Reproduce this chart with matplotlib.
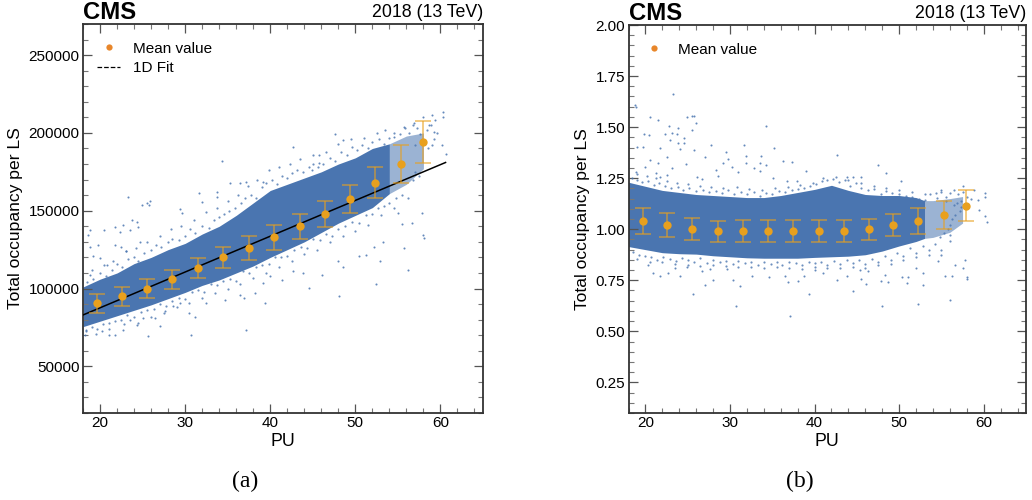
import matplotlib
matplotlib.use('Agg')
import matplotlib.pyplot as plt
from matplotlib.lines import Line2D
from matplotlib.ticker import MultipleLocator

plt.rcParams['font.family'] = ['Liberation Sans', 'DejaVu Sans']

# mean values with spread
pu_a = [19.7, 22.6, 25.5, 28.5, 31.5, 34.5, 37.5, 40.5, 43.5, 46.4, 49.4, 52.3, 55.4, 58.0]
mean_a = [90500, 95000, 100000, 106000, 113000, 120000, 126000, 133000, 140000, 148000, 157500, 168000, 180000, 194000]
err_a = [6000, 6000, 6000, 6000, 6500, 7000, 7500, 8000, 8000, 8500, 9000, 10000, 12000, 13500]

pu_b = [19.7, 22.6, 25.5, 28.6, 31.5, 34.5, 37.5, 40.5, 43.5, 46.4, 49.3, 52.2, 55.3, 57.9]
mean_b = [1.04, 1.02, 1.00, 0.99, 0.99, 0.99, 0.99, 0.99, 0.99, 1.00, 1.02, 1.04, 1.07, 1.115]
err_b = [0.062, 0.058, 0.055, 0.052, 0.055, 0.053, 0.055, 0.055, 0.055, 0.052, 0.055, 0.062, 0.07, 0.075]

fit_pu = [18, 60.6]
fit_occ = [83000, 181000]

# outline of the dense part of the scatter
band_pu_a = [18, 20, 22, 24, 26, 28, 30, 32, 34, 36, 38, 40, 42, 44, 46, 48, 50, 52, 54]
edge_hi_a = [101000, 106000, 110000, 116000, 120000, 125000, 129000, 135000, 140000, 147000, 155000, 163000, 167000, 171000, 175000, 180000, 184000, 190000, 193000]
edge_lo_a = [75500, 79000, 82500, 86000, 89500, 93500, 97500, 102000, 105500, 110000, 114500, 120000, 125000, 130000, 136000, 142000, 147000, 152000, 161000]
tail_pu_a = [54, 56, 58]
tail_hi_a = [193000, 198000, 200000]
tail_lo_a = [161000, 167000, 177000]

band_pu_b = [18, 20, 22, 24, 26, 28, 30, 32, 34, 36, 38, 40, 42, 44, 46, 48, 50, 52, 53]
edge_hi_b = [1.23, 1.21, 1.19, 1.18, 1.17, 1.165, 1.16, 1.155, 1.155, 1.165, 1.18, 1.195, 1.215, 1.19, 1.17, 1.165, 1.165, 1.155, 1.14]
edge_lo_b = [0.915, 0.90, 0.885, 0.88, 0.878, 0.87, 0.865, 0.86, 0.858, 0.858, 0.858, 0.862, 0.865, 0.868, 0.875, 0.893, 0.918, 0.94, 0.955]
tail_pu_b = [53, 54, 56, 57.5]
tail_hi_b = [1.14, 1.14, 1.15, 1.16]
tail_lo_b = [0.955, 0.96, 0.985, 1.03]

# speckle just outside the dense part
speck_pu_a = [18.5, 19.2, 20, 20.7, 21.4, 22, 22.6, 23.3, 24, 24.5, 25.2, 26, 26.6, 27.2, 28, 28.5, 29.3, 30, 30.6, 31.2,
              32, 32.8, 33.4, 34, 34.6, 35.2, 35.9, 36.6, 37, 37.7, 38.3, 39, 39.5, 40.2, 40.8, 41.4, 42, 42.6, 43.2, 43.8,
              44.5, 45, 45.6, 46.2, 47, 47.6, 48.3, 49, 49.6, 50.2, 50.8, 51.5, 52, 52.8, 53.4, 54, 54.6, 55.2, 55.8, 56.3,
              56.8, 57.3, 57.6, 58.4, 58.9, 59.2, 59.6, 59, 58.5, 57,
              18.3, 19, 19.7, 20.4, 21.1, 21.8, 22.5, 23.2, 24, 24.8, 25.5, 26.3, 27, 27.8, 28.5, 29.3, 30, 30.8, 31.5, 32.2,
              33, 33.8, 34.5, 35.3, 36, 36.8, 37.5, 38.3, 39, 39.8, 40.6, 41.3, 42, 42.8, 43.6, 44.3, 45, 45.8, 46.5, 47.3,
              48, 48.8, 49.6, 50.4, 51.2, 52, 52.7, 53.4, 54, 54.8, 55.5, 56.2, 56.8, 57, 57.5,
              19, 20.5, 21.5, 23, 24.2, 25.5, 27, 28.3, 29.5, 31, 32.4, 33.7, 35, 36.2, 37.4, 38.5, 39.8, 41, 42.3, 43.5,
              45, 46.5, 48, 49.5, 51, 52.5, 53.5,
              19.5, 21, 22.8, 24.5, 26, 27.5, 29, 30.5, 32, 33.5, 35, 36.5, 38, 39.5, 41, 42.5, 44, 45.5, 47, 48.5,
              50, 51.5, 53, 54.5]
speck_occ_a = [104000, 106000, 110000, 108000, 112000, 116000, 114000, 119000, 120000, 118000, 123000, 125000, 128000, 127000, 130000, 132000, 131000, 134000, 138000, 136000,
               140000, 139000, 144000, 146000, 148000, 150000, 152000, 155000, 158000, 160000, 158000, 165000, 168000, 170000, 167000, 172000, 171000, 174000, 176000, 175000,
               178000, 180000, 178000, 180000, 184000, 182000, 188000, 186000, 191000, 189000, 192000, 190000, 194000, 196000, 193000, 197000, 200000, 199000, 203000, 200000,
               205000, 203000, 199000, 202000, 205000, 196000, 200000, 192000, 190000, 192000,
               72500, 75000, 74000, 77000, 78000, 79000, 80000, 83000, 82000, 85000, 86000, 87000, 90000, 89000, 92000, 94000, 93000, 98000, 99000, 98000,
               103000, 102000, 105000, 106000, 105000, 111000, 110000, 114000, 115000, 116000, 120000, 120000, 121000, 125000, 127000, 126000, 132000, 131000, 135000, 134000,
               138000, 140000, 143000, 142000, 147000, 148000, 152000, 153000, 155000, 158000, 160000, 158000, 170000, 175000, 172000,
               112000, 115000, 118000, 124000, 126000, 130000, 134000, 138000, 140000, 144000, 149000, 152000, 156000, 160000, 166000, 170000, 176000, 178000, 180000, 183000,
               186000, 188000, 193000, 196000, 197000, 200000, 202000,
               71000, 74000, 77000, 78000, 82000, 84000, 88000, 91000, 94000, 97000, 100000, 103000, 107000, 110000, 114000, 118000, 122000, 125000, 130000, 134000,
               137000, 141000, 147000, 152000]

speck_pu_b = [18.4, 19, 19.6, 20.3, 21, 21.6, 22.3, 23, 23.8, 24.5, 25.2, 26, 26.8, 27.5, 28.3, 29, 29.8, 30.5, 31.3, 32,
              32.8, 33.5, 34.3, 35, 35.8, 36.5, 37.3, 38, 38.8, 39.5, 40.2, 40.9, 41.5, 42.2, 42.9, 43.6, 44.2, 44.9, 45.5, 46.3,
              47, 47.8, 48.5, 49.2, 50, 50.8, 51.5, 52.3, 53, 53.7, 54.4, 55, 55.5, 56, 56.5, 57, 57.5, 58, 58.5, 56.8,
              57.3, 57.2, 56.6, 56.3, 56, 55.8, 56, 55.3, 54.8,
              18.5, 19.2, 20, 20.7, 21.4, 22.1, 22.9, 23.6, 24.3, 25, 25.8, 26.5, 27.3, 28, 28.8, 29.5, 30.3, 31, 31.8, 32.5,
              33.3, 34, 34.8, 35.5, 36.2, 37, 37.8, 38.5, 39.3, 40, 40.8, 41.5, 42.3, 43, 43.8, 44.5, 45.3, 46, 46.8, 47.5,
              48.3, 49, 49.8, 50.5, 51.3, 52, 52.8, 53.5, 54.2, 55,
              19, 20.2, 21.3, 22.5, 23.7, 25, 26.4, 27.8, 29.2, 30.8, 32.2, 33.8, 35.3, 36.8, 38.3, 39.8, 41, 42.5, 44, 45.5,
              47, 48.5, 50, 51.5, 53, 54.5, 55.5, 56.5, 57.3,
              19, 20.5, 22, 23.5, 25, 26.5, 28, 29.5, 31, 32.5, 34, 35.5, 37, 38.5, 40, 41.5, 43, 44.5, 46, 47.5,
              49, 50.5, 52, 53.5, 55, 56]
speck_occ_b = [1.25, 1.24, 1.23, 1.235, 1.215, 1.225, 1.21, 1.20, 1.205, 1.19, 1.20, 1.185, 1.19, 1.18, 1.185, 1.175, 1.19, 1.17, 1.18, 1.17,
               1.18, 1.165, 1.175, 1.17, 1.185, 1.18, 1.19, 1.195, 1.20, 1.21, 1.22, 1.235, 1.24, 1.245, 1.23, 1.24, 1.21, 1.225, 1.20, 1.19,
               1.195, 1.17, 1.185, 1.175, 1.17, 1.165, 1.16, 1.15, 1.145, 1.17, 1.175, 1.18, 1.16, 1.175, 1.19, 1.17, 1.18, 1.16, 1.15, 1.13,
               1.11, 1.09, 1.07, 1.05, 1.02, 1.0, 0.97, 0.98, 0.96,
               0.89, 0.875, 0.87, 0.865, 0.85, 0.865, 0.855, 0.845, 0.86, 0.85, 0.84, 0.86, 0.835, 0.85, 0.84, 0.845, 0.83, 0.845, 0.835, 0.84,
               0.825, 0.84, 0.83, 0.84, 0.825, 0.84, 0.835, 0.825, 0.84, 0.835, 0.84, 0.825, 0.845, 0.83, 0.85, 0.835, 0.85, 0.83, 0.855, 0.84,
               0.87, 0.85, 0.885, 0.87, 0.91, 0.885, 0.92, 0.90, 0.93, 0.90,
               1.27, 1.26, 1.25, 1.235, 1.225, 1.22, 1.21, 1.205, 1.20, 1.205, 1.195, 1.19, 1.20, 1.205, 1.215, 1.225, 1.25, 1.255, 1.24, 1.225,
               1.21, 1.20, 1.19, 1.18, 1.17, 1.155, 1.14, 1.12, 1.14,
               0.855, 0.84, 0.84, 0.83, 0.825, 0.82, 0.825, 0.82, 0.815, 0.815, 0.81, 0.815, 0.81, 0.805, 0.815, 0.81, 0.81, 0.815, 0.81, 0.825,
               0.83, 0.85, 0.865, 0.875, 0.875, 0.94]

# stray points, panel a
stray_pu_a = [25.6, 30.7, 37.1, 39.4, 44.5, 48.1, 52.4, 56.2, 52.9, 51.2, 50.4, 48.6, 48.0, 46.1, 43.9, 42.7, 41.4, 40.0, 39.2, 38.2,
              36.9, 36.5, 34.7, 32.5, 31.2, 30.4, 29.4, 27.1, 26.5, 24.3, 22.7, 21.8, 21.0, 20.2, 18.2, 18.4, 23.5, 25.1, 27.6, 28.6,
              19.2, 20.0, 20.8, 21.8, 22.5, 19.8, 18.8, 23.1, 18.8, 24.7,
              23.3, 24.9, 25.5, 25.9, 25.7, 23.7, 24.3, 24.5, 22.7, 21.8, 20.5, 18.8, 18.6, 22.4, 23.5, 29.4, 29.6, 31.6, 33.7, 33.7,
              32.0, 34.3, 35.3, 36.5, 37.1, 39.2, 42.7, 45.7, 45.7, 44.9, 47.6, 48.6, 54.5, 55.7, 56.9, 59.0, 60.3, 60.3, 59.4, 60.2,
              60.6, 58.0, 58.6, 59.2, 57.8, 58.0, 58.1, 56.7, 55.5, 55.0, 53.3, 52.2, 55.7]
stray_occ_a = [69300, 70300, 73500, 90600, 100300, 94900, 103000, 112000, 118000, 121600, 120600, 114000, 118000, 108800, 110000, 111000, 105600, 107800, 103500, 97000,
               93800, 96000, 92800, 90600, 82000, 84200, 90600, 75700, 81000, 76700, 73500, 70300, 70300, 72500, 70300, 73500, 79900, 81000, 85300, 88500,
               120600, 119500, 115000, 128000, 127000, 128000, 127000, 123800, 108800, 130000,
               158700, 153700, 154800, 156500, 153700, 144100, 143000, 139800, 140900, 139800, 137700, 137300, 134500, 136600, 137700, 151000, 148400, 161700, 162300, 159100,
               155900, 182200, 167600, 167600, 168300, 168700, 191200, 185800, 180500, 176200, 199100, 195500, 197600, 204000, 206100, 211500, 213200, 210000, 208300, 192200,
               186500, 210400, 205000, 200800, 148400, 134500, 132400, 142000, 141500, 148400, 130200, 127000, 126000]

# stray points, panel b
stray_pu_b = [18.8, 18.9, 23.3, 24.9, 25.5, 25.8, 26.0, 20.5, 21.5, 22.8, 23.8, 25.5, 19.8, 20.4, 22.3, 23.1, 23.7, 24.6, 22.9, 23.9,
              24.6, 19.0, 19.7, 21.7, 24.1, 25.7, 27.8, 31.6, 34.2, 35.2, 42.6, 47.5, 48.5, 50.2, 39.0, 29.5, 27.0, 29.8, 31.9, 33.7,
              36.3, 37.3, 33.5, 29.2, 30.2, 34.2, 31.9, 32.8, 33.5, 31.0, 28.4, 22.5, 24.8, 23.1, 20.6, 21.5, 20.0, 18.9, 21.3, 21.7,
              22.6, 26.1, 26.7, 28.6, 35.1, 36.7, 37.9, 45.5, 44.6, 43.8, 57.6, 58.9, 60.2, 60.2, 60.1, 60.4, 59.5, 59.3, 55.0,
              30.7, 25.6, 37.1, 39.4, 44.5, 48.0, 52.2, 56.0, 58.0, 58.0, 57.6, 57.8, 56.6, 56.2, 55.4, 54.6, 52.8, 52.8, 52.0, 50.9,
              50.3, 51.1, 48.7, 47.9, 48.3, 46.1, 45.5, 46.3, 45.4, 43.8, 42.6, 41.0, 40.0, 38.8, 38.1, 36.9, 36.5, 34.6, 32.6, 31.2,
              30.4, 29.6, 27.6, 28.0, 27.0, 26.7, 24.9, 24.1, 22.7, 21.7, 20.9, 20.3, 23.5]
stray_occ_b = [1.61, 1.60, 1.66, 1.55, 1.553, 1.553, 1.52, 1.55, 1.536, 1.507, 1.495, 1.487, 1.467, 1.462, 1.467, 1.47, 1.466, 1.446, 1.438, 1.42,
               1.42, 1.405, 1.405, 1.397, 1.394, 1.386, 1.413, 1.41, 1.507, 1.397, 1.364, 1.315, 1.275, 1.234, 1.283, 1.377, 1.356, 1.343, 1.36, 1.36,
               1.335, 1.328, 1.323, 1.323, 1.307, 1.312, 1.323, 1.30, 1.283, 1.28, 1.29, 1.356, 1.319, 1.30, 1.34, 1.323, 1.307, 1.278, 1.275, 1.258,
               1.266, 1.258, 1.247, 1.261, 1.25, 1.234, 1.237, 1.258, 1.258, 1.258, 1.212, 1.193, 1.176, 1.16, 1.067, 1.033, 1.095, 1.144, 1.193,
               0.623, 0.685, 0.577, 0.685, 0.696, 0.623, 0.636, 0.655, 0.757, 0.765, 0.81, 0.85, 0.827, 0.77, 0.773, 0.843, 0.729, 0.786, 0.81, 0.737,
               0.766, 0.765, 0.74, 0.745, 0.778, 0.734, 0.757, 0.794, 0.802, 0.77, 0.75, 0.786, 0.802, 0.773, 0.745, 0.74, 0.77, 0.766, 0.773, 0.72,
               0.75, 0.806, 0.806, 0.75, 0.729, 0.794, 0.815, 0.773, 0.786, 0.77, 0.786, 0.827, 0.81]

BLUE = '#4A75B0'
ORANGE = '#E8A01E'
LEGEND_ORANGE = '#E8862A'


def draw_panel(ax, band_pu, edge_hi, edge_lo, tail_pu, tail_hi, tail_lo, speck_pu, speck_occ, stray_pu, stray_occ, pu, mean, err):
    ax.fill_between(tail_pu, tail_lo, tail_hi, color=BLUE, alpha=0.55, lw=0, zorder=1)
    ax.fill_between(band_pu, edge_lo, edge_hi, color=BLUE, lw=0, zorder=1.5)
    ax.scatter(speck_pu, speck_occ, s=2.5, color=BLUE, alpha=0.8, lw=0, zorder=2)
    ax.scatter(stray_pu, stray_occ, s=2.2, color=BLUE, alpha=0.85, lw=0, zorder=2)
    ax.errorbar(pu, mean, yerr=err, fmt='none', ecolor=ORANGE, alpha=0.65, elinewidth=1.2, capsize=5.5, capthick=1.2, zorder=4)
    ax.plot(pu, mean, 'o', color=ORANGE, ms=6, mew=0, zorder=5)


def style_panel(ax, y_major, y_minor):
    ax.set_xlim(18, 65)
    ax.xaxis.set_major_locator(MultipleLocator(10))
    ax.xaxis.set_minor_locator(MultipleLocator(2))
    ax.yaxis.set_major_locator(MultipleLocator(y_major))
    ax.yaxis.set_minor_locator(MultipleLocator(y_minor))
    ax.tick_params(which='major', direction='in', top=True, right=True, length=6.5, width=0.9, color='#555555', labelsize=11, pad=2.5)
    ax.tick_params(which='minor', direction='in', top=True, right=True, length=3.5, width=0.8, color='#777777')
    ax.set_xlabel('PU', fontsize=12.8, labelpad=2)
    ax.set_ylabel('Total occupancy per LS', fontsize=12.6)
    for spine in ax.spines.values():
        spine.set_linewidth(1.3)
        spine.set_color('#333333')
    ax.text(0.0, 1.001, 'CMS', transform=ax.transAxes, fontsize=17.2, fontweight='bold', va='bottom', ha='left')
    ax.text(1.0, 1.008, '2018 (13 TeV)', transform=ax.transAxes, fontsize=12.8, va='bottom', ha='right')


fig = plt.figure(figsize=(10.32, 5), dpi=100)
ax1 = fig.add_axes([83 / 1032, 87 / 500, 400 / 1032, 389 / 500])
ax2 = fig.add_axes([628.5 / 1032, 87 / 500, 397.5 / 1032, 388 / 500])

draw_panel(ax1, band_pu_a, edge_hi_a, edge_lo_a, tail_pu_a, tail_hi_a, tail_lo_a, speck_pu_a, speck_occ_a, stray_pu_a, stray_occ_a, pu_a, mean_a, err_a)
ax1.plot(fit_pu, fit_occ, color='black', lw=1.1, zorder=3)
ax1.set_ylim(20000, 270000)
style_panel(ax1, 50000, 10000)
ax1.yaxis.set_label_coords(-0.15, 0.5)
ax1.legend(handles=[Line2D([], [], marker='o', ls='none', color=LEGEND_ORANGE, ms=4.5, mew=0, label='Mean value'),
                    Line2D([], [], ls='--', color='black', lw=0.9, label='1D Fit')],
           loc='upper left', bbox_to_anchor=(0.0, 0.99), frameon=False, fontsize=11, handlelength=1.55, handletextpad=0.8, labelspacing=0.35)

draw_panel(ax2, band_pu_b, edge_hi_b, edge_lo_b, tail_pu_b, tail_hi_b, tail_lo_b, speck_pu_b, speck_occ_b, stray_pu_b, stray_occ_b, pu_b, mean_b, err_b)
ax2.set_ylim(0.1, 2.0)
style_panel(ax2, 0.25, 0.05)
ax2.yaxis.set_major_formatter(lambda v, p: f'{v:.2f}')
ax2.yaxis.set_label_coords(-0.097, 0.5)
ax2.legend(handles=[Line2D([], [], marker='o', ls='none', color=LEGEND_ORANGE, ms=4.5, mew=0, label='Mean value')],
           loc='upper left', bbox_to_anchor=(0.0, 0.99), frameon=False, fontsize=11, handlelength=1.55, handletextpad=0.8)

fig.text(245 / 1032, 1 - 481 / 500, '(a)', fontsize=17, family='Liberation Serif', ha='center', va='center')
fig.text(800 / 1032, 1 - 481 / 500, '(b)', fontsize=17, family='Liberation Serif', ha='center', va='center')

fig.savefig('out.png', dpi=100)
